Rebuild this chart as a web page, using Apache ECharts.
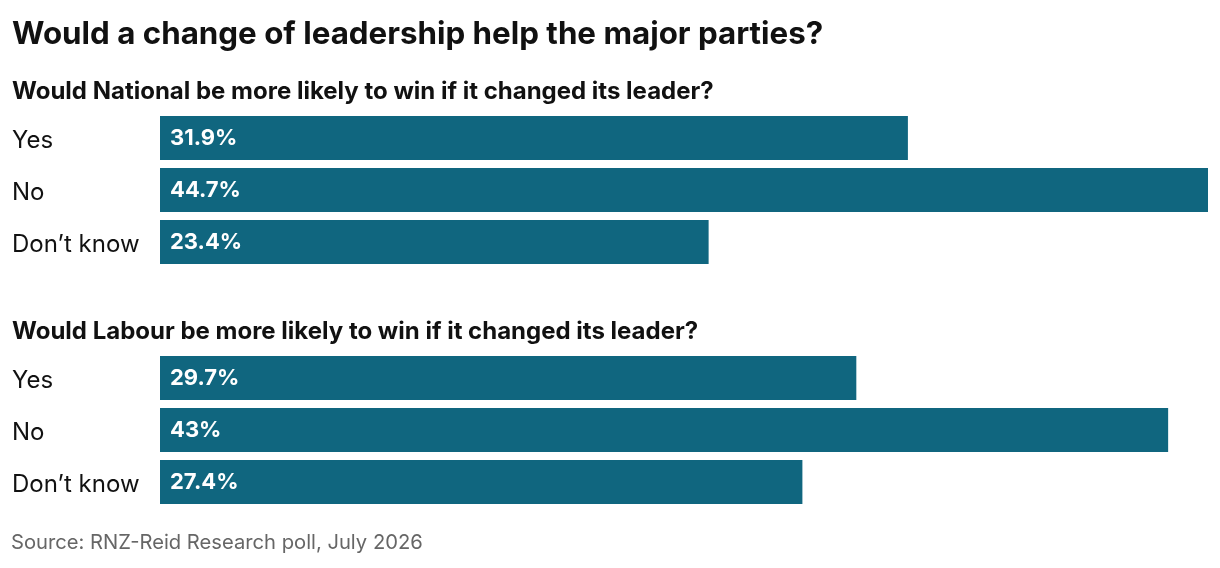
<!DOCTYPE html>
<html><head><meta charset="utf-8">
<script src="https://cdn.jsdelivr.net/npm/echarts@6/dist/echarts.min.js"></script>
<style>html,body{margin:0;padding:0;background:#fff}#c{width:1220px;height:568px}</style>
</head><body><div id="c"></div>
<script>
const categories = ["Yes", "No", "Don\u2019t know"];
const nationalValues = [31.9, 44.7, 23.4];
const labourValues = [29.7, 43, 27.4];
const titleText = "Would a change of leadership help the major parties?";
const nationalQuestion = "Would National be more likely to win if it changed its leader?";
const labourQuestion = "Would Labour be more likely to win if it changed its leader?";
const sourceText = "Source: RNZ-Reid Research poll, July 2026";

const FONT = "Inter, 'Liberation Sans', sans-serif";
const BAR = "#10667f";
const chart = echarts.init(document.getElementById('c'), null, {renderer: 'canvas'});
const MAXV = 44.7;

function yAx(i) {
  return {
    type: 'category', gridIndex: i, data: categories, inverse: true,
    axisLine: {show: false}, axisTick: {show: false},
    axisLabel: {align: 'left', margin: 148, color: '#111', fontFamily: FONT, fontSize: 24,
      formatter: v => '{a|' + v + '}',
      rich: {a: {color: '#111', fontFamily: FONT, fontSize: 24, padding: [5, 0, 0, 0]}}}
  };
}
function xAx(i) {
  return {type: 'value', gridIndex: i, min: 0, max: MAXV, show: false};
}
function ser(i, vals) {
  return {
    type: 'bar', xAxisIndex: i, yAxisIndex: i, data: vals, barWidth: 44,
    itemStyle: {color: BAR}, silent: true,
    label: {show: true, position: 'insideLeft', distance: 10, color: '#fff', padding: [2, 0, 0, 0],
      fontFamily: FONT, fontWeight: 'bold', fontSize: 22, formatter: p => p.value + '%'}
  };
}

chart.setOption({
  animation: false,
  title: [
    {text: titleText, left: 12, top: 19, padding: 0, textStyle: {fontFamily: FONT, fontWeight: 'bold', fontSize: 31.3, color: '#111'}},
    {text: nationalQuestion, left: 12, top: 80, padding: 0, textStyle: {fontFamily: FONT, fontWeight: 'bold', fontSize: 24, color: '#111'}},
    {text: labourQuestion, left: 12, top: 320, padding: 0, textStyle: {fontFamily: FONT, fontWeight: 'bold', fontSize: 24, color: '#111'}},
    {text: sourceText, left: 11, top: 533, padding: 0, textStyle: {fontFamily: FONT, fontWeight: 'normal', fontSize: 20.2, color: '#666'}}
  ],
  grid: [
    {left: 160, width: 1048, top: 112, height: 156},
    {left: 160, width: 1048, top: 352, height: 156}
  ],
  xAxis: [xAx(0), xAx(1)],
  yAxis: [yAx(0), yAx(1)],
  series: [ser(0, nationalValues), ser(1, labourValues)]
});
</script></body></html>
